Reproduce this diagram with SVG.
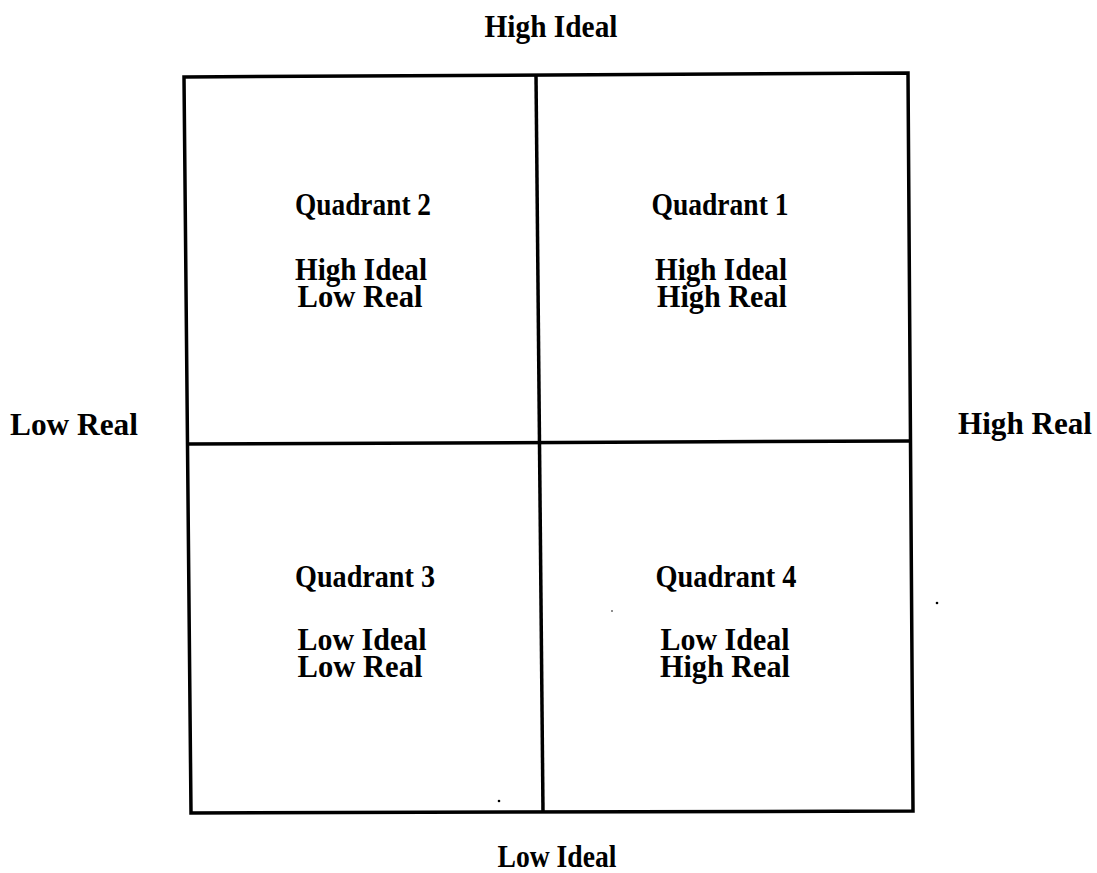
<svg xmlns="http://www.w3.org/2000/svg" width="1097" height="873" viewBox="0 0 1097 873">
<style>
.t{font-family:"Liberation Serif","Times New Roman",serif;font-weight:bold;font-size:31px;fill:#000;text-anchor:middle}
.ln{fill:none;stroke:#000;stroke-width:3.5;stroke-linejoin:miter}
</style>
<rect width="1097" height="873" fill="#fff"/>
<g id="connectors">
<path class="ln" d="M184,77 L908,73 L913,811 L191,813 Z"/>
<path class="ln" d="M536,75 L543,812"/>
<path class="ln" d="M187,444 L910,441"/>
</g>
<g id="axis-top"><text class="t" x="551" y="37" textLength="133" lengthAdjust="spacingAndGlyphs">High Ideal</text></g>
<g id="axis-bottom"><text class="t" x="557" y="867" textLength="119" lengthAdjust="spacingAndGlyphs">Low Ideal</text></g>
<g id="axis-left"><text class="t" x="74" y="435" textLength="128" lengthAdjust="spacingAndGlyphs">Low Real</text></g>
<g id="axis-right"><text class="t" x="1025" y="434" textLength="134" lengthAdjust="spacingAndGlyphs">High Real</text></g>
<g id="q2">
<text class="t" x="363" y="215" textLength="136" lengthAdjust="spacingAndGlyphs">Quadrant 2</text>
<text class="t" x="361" y="280" textLength="132" lengthAdjust="spacingAndGlyphs">High Ideal</text>
<text class="t" x="360" y="307" textLength="125" lengthAdjust="spacingAndGlyphs">Low Real</text>
</g>
<g id="q1">
<text class="t" x="720" y="215" textLength="137" lengthAdjust="spacingAndGlyphs">Quadrant 1</text>
<text class="t" x="721" y="280" textLength="132" lengthAdjust="spacingAndGlyphs">High Ideal</text>
<text class="t" x="722" y="307" textLength="130" lengthAdjust="spacingAndGlyphs">High Real</text>
</g>
<g id="q3">
<text class="t" x="365" y="587" textLength="140" lengthAdjust="spacingAndGlyphs">Quadrant 3</text>
<text class="t" x="362" y="650" textLength="129" lengthAdjust="spacingAndGlyphs">Low Ideal</text>
<text class="t" x="360" y="677" textLength="125" lengthAdjust="spacingAndGlyphs">Low Real</text>
</g>
<g id="q4">
<text class="t" x="726" y="587" textLength="141" lengthAdjust="spacingAndGlyphs">Quadrant 4</text>
<text class="t" x="725" y="650" textLength="129" lengthAdjust="spacingAndGlyphs">Low Ideal</text>
<text class="t" x="725" y="677" textLength="130" lengthAdjust="spacingAndGlyphs">High Real</text>
</g>
<g id="specks" fill="#000">
<circle cx="499" cy="801" r="1.3"/>
<circle cx="937" cy="603" r="1.3"/>
<circle cx="612" cy="611" r="0.8"/>
</g>
</svg>
